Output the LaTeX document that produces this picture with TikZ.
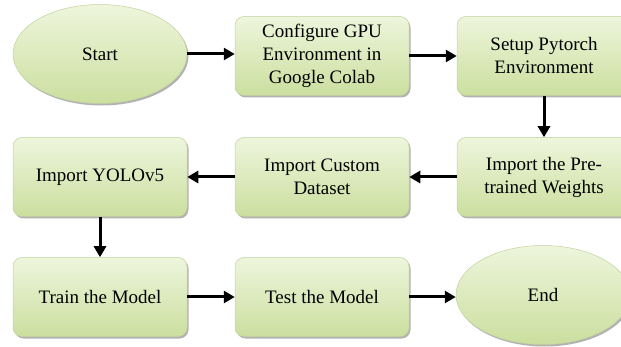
\documentclass[tikz,border=0pt]{standalone}
\usepackage{fontspec}
\setmainfont{Liberation Serif}
\usetikzlibrary{shapes.geometric,arrows.meta,shadows}
\definecolor{topg}{HTML}{EEF5DC}
\definecolor{botg}{HTML}{CBDF9F}
\definecolor{edgeg}{HTML}{C2D39E}
\begin{document}
\begin{tikzpicture}[x=1pt,y=-1pt,
  boxfill/.style={top color=topg, bottom color=botg, draw=edgeg, line width=0.5pt,
    drop shadow={shadow xshift=1.5pt, shadow yshift=-2pt, opacity=0.3, fill=black},
    font=\fontsize{19}{23}\selectfont, align=center, inner sep=0pt},
  stepbox/.style={boxfill, rectangle, rounded corners=9pt, minimum width=174pt, minimum height=79pt},
  term/.style={boxfill, ellipse, minimum width=174pt, minimum height=99pt},
  flow/.style={line width=3pt, -{Triangle[length=11pt,width=12pt]}}
]
\useasboundingbox (0,0) rectangle (621,347);
\clip (0,0) rectangle (621,347);
\node[term] (start) at (100,54) {Start};
\node[stepbox] (cfg) at (322,56) {Configure GPU\\Environment in\\Google Colab};
\node[stepbox] (setup) at (544,56) {Setup Pytorch\\Environment};
\node[stepbox] (pre) at (544,177) {Import the Pre-\\trained Weights};
\node[stepbox] (custom) at (322,177) {Import Custom\\Dataset};
\node[stepbox] (yolo) at (100,177) {Import YOLOv5};
\node[stepbox] (train) at (100,297) {Train the Model};
\node[stepbox] (test) at (322,297) {Test the Model};
\node[term] (end) at (543,295) {End};
\draw[flow] (start.east) -- (cfg.west |- start.east);
\draw[flow] (cfg.east) -- (setup.west);
\draw[flow] (setup.south) -- (pre.north);
\draw[flow] (pre.west) -- (custom.east);
\draw[flow] (custom.west) -- (yolo.east);
\draw[flow] (yolo.south) -- (train.north);
\draw[flow] (train.east) -- (test.west);
\draw[flow] (test.east) -- (end.west |- test.east);
\end{tikzpicture}
\end{document}
